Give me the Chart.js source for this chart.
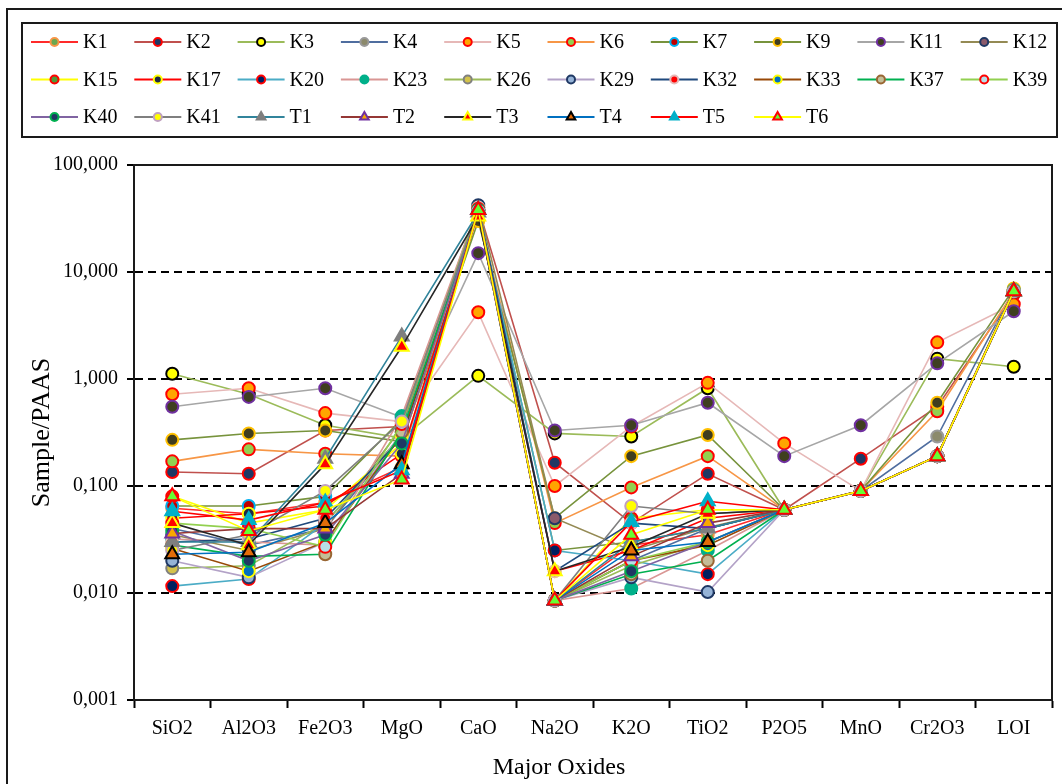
<!DOCTYPE html>
<html>
<head>
<meta charset="utf-8">
<script src="https://cdn.jsdelivr.net/npm/chart.js@4.4.0/dist/chart.umd.min.js"></script>
<style>
  html, body { margin: 0; padding: 0; background: #fff; }
</style>
</head>
<body>
<canvas id="oxideChart" width="1062" height="784"></canvas>
<script>
// major oxides normalised to PAAS
const oxides = ['SiO2', 'Al2O3', 'Fe2O3', 'MgO', 'CaO', 'Na2O', 'K2O', 'TiO2', 'P2O5', 'MnO', 'Cr2O3', 'LOI'];
const yTicks = [0.001, 0.01, 0.1, 1, 10, 100];

const K1  = [0.062, 0.055, 0.07, 0.15, 36, 0.0085, 0.028, 0.035, 0.06, 0.09, 0.19, 6.5];
const K2  = [0.135, 0.13, 0.33, 0.36, 40, 0.165, 0.045, 0.13, 0.06, 0.18, 0.55, 6.2];
const K3  = [1.12, 0.72, 0.37, 0.28, 1.07, 0.31, 0.29, 0.82, 0.06, 0.09, 1.55, 1.3];
const K4  = [0.04, 0.028, 0.04, 0.3, 38, 0.0085, 0.02, 0.04, 0.06, 0.09, 0.29, 6.8];
const K5  = [0.72, 0.82, 0.48, 0.4, 4.2, 0.1, 0.36, 0.92, 0.25, 0.09, 2.2, 5.0];
const K6  = [0.17, 0.22, 0.2, 0.19, 35, 0.045, 0.097, 0.19, 0.06, 0.09, 0.5, 6.5];
const K7  = [0.065, 0.065, 0.08, 0.42, 37, 0.025, 0.03, 0.04, 0.06, 0.09, 0.19, 6.8];
const K9  = [0.27, 0.31, 0.33, 0.26, 30, 0.05, 0.19, 0.3, 0.06, 0.09, 0.6, 7.0];
const K11 = [0.55, 0.68, 0.82, 0.44, 15, 0.33, 0.37, 0.6, 0.19, 0.37, 1.4, 4.3];
const K12 = [0.035, 0.025, 0.04, 0.35, 42, 0.05, 0.025, 0.041, 0.06, 0.09, 0.19, 6.5];
const K15 = [0.08, 0.045, 0.06, 0.25, 38, 0.0085, 0.05, 0.06, 0.06, 0.09, 0.19, 6.6];
const K17 = [0.05, 0.055, 0.065, 0.2, 36, 0.016, 0.025, 0.05, 0.06, 0.09, 0.19, 6.6];
const K20 = [0.0116, 0.0135, 0.045, 0.3, 38, 0.025, 0.02, 0.015, 0.06, 0.09, 0.19, 6.5];
const K23 = [0.032, 0.03, 0.028, 0.45, 40, 0.0085, 0.011, 0.025, 0.06, 0.09, 0.19, 6.8];
const K26 = [0.017, 0.018, 0.045, 0.3, 37, 0.0085, 0.018, 0.03, 0.06, 0.09, 0.19, 6.7];
const K29 = [0.02, 0.014, 0.03, 0.32, 38, 0.0085, 0.014, 0.0102, 0.06, 0.09, 0.19, 6.5];
const K32 = [0.03, 0.032, 0.05, 0.28, 40, 0.016, 0.045, 0.04, 0.06, 0.09, 0.19, 6.6];
const K33 = [0.026, 0.016, 0.03, 0.3, 36, 0.0085, 0.02, 0.028, 0.06, 0.09, 0.19, 6.6];
const K37 = [0.028, 0.022, 0.023, 0.32, 37, 0.0085, 0.015, 0.02, 0.06, 0.09, 0.19, 6.6];
const K39 = [0.045, 0.04, 0.027, 0.38, 39, 0.0085, 0.02, 0.03, 0.06, 0.09, 0.19, 6.5];
const K40 = [0.038, 0.02, 0.035, 0.25, 38, 0.0085, 0.016, 0.03, 0.06, 0.09, 0.19, 6.6];
const K41 = [0.025, 0.035, 0.09, 0.4, 37, 0.0085, 0.065, 0.055, 0.06, 0.09, 0.19, 6.6];
const T1  = [0.03, 0.03, 0.18, 2.5, 36, 0.0085, 0.03, 0.04, 0.06, 0.09, 0.19, 6.6];
const T2  = [0.036, 0.04, 0.04, 0.13, 38, 0.0085, 0.022, 0.045, 0.06, 0.09, 0.19, 6.6];
const T3  = [0.045, 0.028, 0.16, 2.0, 33, 0.016, 0.027, 0.055, 0.06, 0.09, 0.19, 6.6];
const T4  = [0.023, 0.024, 0.045, 0.16, 38, 0.0085, 0.025, 0.03, 0.06, 0.09, 0.19, 6.6];
const T5  = [0.058, 0.048, 0.07, 0.14, 38, 0.0085, 0.046, 0.072, 0.06, 0.09, 0.19, 6.6];
const T6  = [0.08, 0.038, 0.06, 0.115, 38, 0.0085, 0.035, 0.06, 0.06, 0.09, 0.19, 6.6];

const samples = [
  ['K1', K1], ['K2', K2], ['K3', K3], ['K4', K4], ['K5', K5], ['K6', K6], ['K7', K7],
  ['K9', K9], ['K11', K11], ['K12', K12], ['K15', K15], ['K17', K17], ['K20', K20],
  ['K23', K23], ['K26', K26], ['K29', K29], ['K32', K32], ['K33', K33], ['K37', K37],
  ['K39', K39], ['K40', K40], ['K41', K41], ['T1', T1], ['T2', T2], ['T3', T3],
  ['T4', T4], ['T5', T5], ['T6', T6]
];

// line colour, marker fill, marker edge, marker shape
const styles = {
  K1:  ['#ff2a2a', '#6aa84f', '#f79646', 'circle'],
  K2:  ['#c0504d', '#1f3864', '#ff0000', 'circle'],
  K3:  ['#9bbb59', '#ffff00', '#000000', 'circle'],
  K4:  ['#4f6d9f', '#8c8a6c', '#9a9a9a', 'circle'],
  K5:  ['#e6b8b7', '#ffa500', '#ff0000', 'circle'],
  K6:  ['#f79646', '#92d050', '#ff0000', 'circle'],
  K7:  ['#77933c', '#c00000', '#00b0f0', 'circle'],
  K9:  ['#77933c', '#403d1f', '#ffc000', 'circle'],
  K11: ['#a6a6a6', '#3f3f1f', '#7030a0', 'circle'],
  K12: ['#948a54', '#8b5a6b', '#1f3864', 'circle'],
  K15: ['#ffff00', '#4e9a3a', '#ff0000', 'circle'],
  K17: ['#ff0000', '#1f2a44', '#ffff00', 'circle'],
  K20: ['#4bacc6', '#002060', '#ff0000', 'circle'],
  K23: ['#d99694', '#00b08a', '#00b08a', 'circle'],
  K26: ['#9bbb59', '#d4c34a', '#808080', 'circle'],
  K29: ['#b3a2c7', '#95b3d7', '#1f3864', 'circle'],
  K32: ['#1f497d', '#ff0000', '#e6b8b7', 'circle'],
  K33: ['#984807', '#0070c0', '#ffff00', 'circle'],
  K37: ['#00b050', '#c4bd97', '#996633', 'circle'],
  K39: ['#92d050', '#b7dee8', '#ff0000', 'circle'],
  K40: ['#8064a2', '#1f3864', '#00b050', 'circle'],
  K41: ['#7f7f7f', '#ffff00', '#c0a0c0', 'circle'],
  T1:  ['#31849b', '#7f7f7f', '#7f7f7f', 'triangle'],
  T2:  ['#953735', '#f9a800', '#7030a0', 'triangle'],
  T3:  ['#262626', '#ff0000', '#ffff00', 'triangle'],
  T4:  ['#0070c0', '#e36c09', '#000000', 'triangle'],
  T5:  ['#ff0000', '#00b0c8', '#00b0c8', 'triangle'],
  T6:  ['#ffff00', '#66ff33', '#ff0000', 'triangle']
};

const serif = 'Liberation Serif';

const datasets = samples.map(([name, values], i) => {
  const [line, fill, edge, shape] = styles[name];
  return {
    label: name,
    data: values,
    borderColor: line,
    borderWidth: 1.6,
    backgroundColor: fill,
    pointBackgroundColor: fill,
    pointBorderColor: edge,
    pointBorderWidth: 2,
    pointStyle: shape,
    pointRadius: shape === 'triangle' ? 8 : 6,
    pointHoverRadius: shape === 'triangle' ? 8 : 6,
    tension: 0,
    order: samples.length - i
  };
});

// outer frame, plot border, legend box and x title
const frame = {
  id: 'frame',
  afterDraw(chart) {
    const ctx = chart.ctx;
    const a = chart.chartArea;
    ctx.save();
    ctx.strokeStyle = '#1a1a1a';
    ctx.lineWidth = 2;
    ctx.strokeRect(7, 9, 1070, 800);
    ctx.strokeRect(a.left, a.top, a.right - a.left, a.bottom - a.top);
    ctx.strokeRect(22, 23, 1035, 114);

    ctx.font = '20px "' + serif + '"';
    ctx.textBaseline = 'middle';
    chart.data.datasets.forEach((ds, i) => {
      const row = Math.floor(i / 10);
      const col = i % 10;
      const x = 31 + col * 103.3;
      const y = 42 + row * 37.5;
      ctx.strokeStyle = ds.borderColor;
      ctx.lineWidth = 2;
      ctx.beginPath();
      ctx.moveTo(x, y);
      ctx.lineTo(x + 47, y);
      ctx.stroke();
      ctx.fillStyle = ds.pointBackgroundColor;
      ctx.strokeStyle = ds.pointBorderColor;
      Chart.helpers.drawPoint(ctx, {
        pointStyle: ds.pointStyle,
        radius: ds.pointStyle === 'triangle' ? 5 : 4,
        rotation: 0,
        borderWidth: 1.5
      }, x + 23.5, y);
      ctx.fillStyle = '#000';
      ctx.fillText(ds.label, x + 52, y + 1);
    });

    ctx.font = '24px "' + serif + '"';
    ctx.textAlign = 'center';
    ctx.fillStyle = '#000';
    ctx.fillText('Major Oxides', 559, 768);
    ctx.restore();
  }
};

new Chart(document.getElementById('oxideChart'), {
  type: 'line',
  data: { labels: oxides, datasets: datasets },
  options: {
    responsive: false,
    animation: false,
    devicePixelRatio: 1,
    layout: { padding: { top: 165, right: 7, left: 0, bottom: 0 } },
    plugins: {
      legend: { display: false },
      tooltip: { enabled: false }
    },
    scales: {
      x: {
        offset: true,
        afterFit: s => { s.height = 84; },
        grid: {
          offset: true,
          drawOnChartArea: false,
          drawTicks: true,
          tickLength: 8,
          tickColor: '#000',
          tickWidth: 2,
          color: '#000'
        },
        border: { color: '#000', width: 2 },
        ticks: { color: '#000', font: { family: serif, size: 20 }, padding: 9 }
      },
      y: {
        type: 'logarithmic',
        min: 0.001,
        max: 100,
        afterBuildTicks: s => { s.ticks = yTicks.map(v => ({ value: v })); },
        afterFit: s => { s.width = 134; },
        grid: {
          color: '#000',
          lineWidth: 2,
          tickLength: 7,
          tickColor: '#000',
          tickWidth: 2
        },
        border: { color: '#000', width: 2, dash: [8, 5] },
        ticks: {
          color: '#000',
          font: { family: serif, size: 20 },
          padding: 9,
          autoSkip: false,
          callback: v => v.toFixed(3).replace('.', ',')
        },
        title: {
          display: true,
          text: 'Sample/PAAS',
          color: '#000',
          font: { family: serif, size: 26 },
          padding: { top: 27, bottom: 0 }
        }
      }
    }
  },
  plugins: [frame]
});
</script>
</body>
</html>
